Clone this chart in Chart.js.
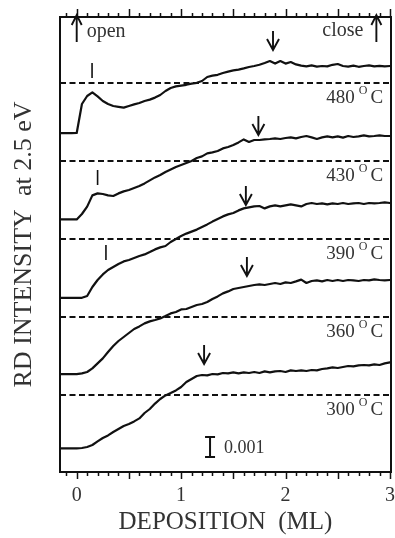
<!DOCTYPE html>
<html>
<head>
<meta charset="utf-8">
<script src="https://cdn.jsdelivr.net/npm/chart.js@4/dist/chart.umd.min.js"></script>
<style>
  html, body { margin: 0; padding: 0; background: #fff; overflow: hidden; }
  canvas { display: block; }
</style>
</head>
<body>
<canvas id="c" width="410" height="538"></canvas>
<script>
// Deposition (ML) sampling grid shared by all traces
const deposition = [-0.16, -0.10, -0.05, 0.00, 0.05, 0.10, 0.15, 0.20, 0.25, 0.30,
  0.35, 0.40, 0.45, 0.50, 0.55, 0.60, 0.65, 0.70, 0.75, 0.80,
  0.85, 0.90, 0.95, 1.00, 1.05, 1.10, 1.15, 1.20, 1.25, 1.30,
  1.35, 1.40, 1.45, 1.50, 1.55, 1.60, 1.65, 1.70, 1.75, 1.80,
  1.85, 1.90, 1.95, 2.00, 2.05, 2.10, 2.15, 2.20, 2.25, 2.30,
  2.35, 2.40, 2.45, 2.50, 2.55, 2.60, 2.65, 2.70, 2.75, 2.80,
  2.85, 2.90, 2.95, 3.00];

// RD intensity in units of 0.001, each trace shifted by its stacking offset
const rd480 = [16.94, 16.94, 16.94, 16.95, 18.40, 18.80, 18.98, 18.78, 18.55, 18.40,
  18.30, 18.26, 18.22, 18.30, 18.38, 18.45, 18.55, 18.62, 18.72, 18.85,
  19.05, 19.20, 19.28, 19.32, 19.36, 19.42, 19.46, 19.55, 19.75, 19.82,
  19.86, 19.95, 20.02, 20.08, 20.12, 20.18, 20.25, 20.30, 20.36, 20.45,
  20.55, 20.42, 20.55, 20.42, 20.50, 20.38, 20.32, 20.28, 20.33, 20.27,
  20.30, 20.28, 20.36, 20.40, 20.30, 20.27, 20.32, 20.26, 20.30, 20.33,
  20.28, 20.31, 20.28, 20.30];
const rd430 = [12.63, 12.63, 12.63, 12.63, 12.90, 13.27, 13.83, 13.93, 13.90, 13.83,
  13.80, 13.93, 14.03, 14.10, 14.20, 14.30, 14.43, 14.58, 14.73, 14.85,
  15.00, 15.13, 15.25, 15.35, 15.45, 15.55, 15.70, 15.78, 15.93, 15.98,
  16.05, 16.18, 16.25, 16.35, 16.48, 16.63, 16.50, 16.60, 16.60, 16.63,
  16.65, 16.68, 16.65, 16.70, 16.73, 16.68, 16.75, 16.80, 16.73, 16.65,
  16.73, 16.78, 16.73, 16.78, 16.72, 16.80, 16.75, 16.78, 16.83, 16.78,
  16.80, 16.83, 16.80, 16.80];
const rd390 = [8.71, 8.71, 8.71, 8.71, 8.71, 8.80, 9.25, 9.60, 9.88, 10.10,
  10.25, 10.40, 10.53, 10.60, 10.70, 10.80, 10.88, 11.00, 11.13, 11.23,
  11.30, 11.50, 11.65, 11.80, 11.92, 12.02, 12.12, 12.25, 12.38, 12.52,
  12.65, 12.78, 12.88, 12.95, 13.08, 13.18, 13.23, 13.28, 13.30, 13.18,
  13.28, 13.33, 13.28, 13.33, 13.38, 13.33, 13.28, 13.40, 13.45, 13.40,
  13.43, 13.38, 13.43, 13.40, 13.45, 13.40, 13.43, 13.45, 13.40, 13.45,
  13.43, 13.45, 13.48, 13.45];
const rd360 = [4.89, 4.89, 4.89, 4.89, 4.93, 5.00, 5.18, 5.43, 5.68, 6.00,
  6.30, 6.55, 6.75, 6.95, 7.15, 7.28, 7.43, 7.53, 7.60, 7.68,
  7.80, 7.93, 8.00, 8.13, 8.15, 8.25, 8.35, 8.40, 8.50, 8.65,
  8.78, 8.93, 9.03, 9.15, 9.20, 9.25, 9.30, 9.35, 9.38, 9.35,
  9.40, 9.45, 9.40, 9.48, 9.45, 9.53, 9.62, 9.45, 9.55, 9.58,
  9.53, 9.60, 9.55, 9.60, 9.55, 9.60, 9.58, 9.55, 9.60, 9.58,
  9.63, 9.60, 9.58, 9.60];
const rd300 = [1.18, 1.18, 1.18, 1.18, 1.20, 1.25, 1.35, 1.53, 1.70, 1.83,
  2.00, 2.15, 2.30, 2.40, 2.53, 2.68, 2.95, 3.15, 3.42, 3.65,
  3.83, 3.95, 4.08, 4.25, 4.50, 4.65, 4.80, 4.85, 4.83, 4.90,
  4.88, 4.95, 4.93, 4.98, 4.93, 4.98, 4.95, 5.00, 4.95, 5.03,
  4.98, 5.03, 5.05, 5.00, 5.08, 5.05, 5.08, 5.05, 5.10, 5.08,
  5.15, 5.18, 5.23, 5.20, 5.25, 5.30, 5.28, 5.33, 5.35, 5.33,
  5.38, 5.35, 5.43, 5.48];

// Substrate temperatures and the dashed reference level of each trace
const temperatures = ['480', '430', '390', '360', '300'];
const baselines = [19.45, 15.55, 11.65, 7.75, 3.85];

// Short vertical marks at the initial feature (first three traces)
const kinkPositions = [0.147, 0.20, 0.28];
const kinkLows = [19.70, 14.35, 10.60];

// Down arrows marking the saturation point of each trace
const arrowPositions = [1.88, 1.74, 1.62, 1.63, 1.22];
const arrowTips = [21.10, 16.85, 13.35, 9.80, 5.40];

// Shutter events
const shutterOpen = 0.0;
const shutterClose = 2.87;

// Intensity scale bar (0.001)
const scaleBarX = 1.277;
const scaleBarFrom = 0.75;
const scaleBarSize = 1.0;
const scaleBarText = '0.001';

const xTickLabels = [0, 1, 2, 3];
const X_MIN = -0.16, X_MAX = 3.01;
const Y_MIN = 0, Y_MAX = 22.75;

const SERIF = '"Liberation Serif", "Times New Roman", "DejaVu Serif", serif';
const INK = '#111';
const TEXT = '#333';

const traces = [rd480, rd430, rd390, rd360, rd300];
const datasets = [];
baselines.forEach(b => {
  datasets.push({
    data: [{ x: X_MIN, y: b }, { x: X_MAX, y: b }],
    borderColor: INK, borderWidth: 2, borderDash: [6, 3.5],
    pointRadius: 0, tension: 0
  });
});
traces.forEach(t => {
  datasets.push({
    data: deposition.map((x, i) => ({ x, y: t[i] })),
    borderColor: INK, borderWidth: 2.2, pointRadius: 0, tension: 0,
    borderJoinStyle: 'round', borderCapStyle: 'round'
  });
});

function downArrow(ctx, x, yTip, len) {
  ctx.beginPath();
  ctx.moveTo(x, yTip - len); ctx.lineTo(x, yTip);
  ctx.moveTo(x - 6, yTip - 11); ctx.lineTo(x, yTip); ctx.lineTo(x + 6, yTip - 11);
  ctx.stroke();
}
function upArrow(ctx, x, yTip, len) {
  ctx.beginPath();
  ctx.moveTo(x, yTip + len); ctx.lineTo(x, yTip);
  ctx.moveTo(x - 5, yTip + 10); ctx.lineTo(x, yTip); ctx.lineTo(x + 5, yTip + 10);
  ctx.stroke();
}

const decorations = {
  id: 'decorations',
  afterDatasetsDraw(chart) {
    const { ctx, chartArea: a, scales: { x, y } } = chart;
    ctx.save();
    ctx.strokeStyle = INK;
    ctx.lineCap = 'butt';

    // frame
    ctx.lineWidth = 2;
    ctx.strokeRect(a.left, a.top, a.right - a.left, a.bottom - a.top);

    // tick marks every 0.1 ML on top and bottom edges, longer every 0.5 ML
    ctx.lineWidth = 1.5;
    for (let i = -1; i <= 30; i++) {
      const px = Math.round(x.getPixelForValue(i / 10)) + 0.5;
      const major = i % 5 === 0;
      ctx.beginPath();
      ctx.moveTo(px, a.bottom); ctx.lineTo(px, a.bottom + (major ? 7 : 4));
      ctx.moveTo(px, a.top); ctx.lineTo(px, a.top - (major ? 8 : 4));
      ctx.stroke();
    }

    // initial-feature marks
    ctx.lineWidth = 1.6;
    kinkPositions.forEach((k, i) => {
      const px = x.getPixelForValue(k);
      const py = y.getPixelForValue(kinkLows[i]);
      ctx.beginPath(); ctx.moveTo(px, py); ctx.lineTo(px, py - 15); ctx.stroke();
    });

    // saturation arrows
    ctx.lineWidth = 1.9;
    arrowPositions.forEach((p, i) => {
      downArrow(ctx, x.getPixelForValue(p), y.getPixelForValue(arrowTips[i]), 19);
    });

    // shutter arrows and labels
    upArrow(ctx, x.getPixelForValue(shutterOpen), a.top - 2, 27);
    upArrow(ctx, x.getPixelForValue(shutterClose), a.top - 2, 27);
    ctx.fillStyle = TEXT;
    ctx.font = '20px ' + SERIF;
    ctx.textBaseline = 'alphabetic';
    ctx.textAlign = 'left';
    ctx.fillText('open', x.getPixelForValue(shutterOpen) + 10, a.top + 20);
    ctx.textAlign = 'right';
    ctx.fillText('close', x.getPixelForValue(shutterClose) - 13, a.top + 19);

    // temperature labels under each dashed level
    const right = x.getPixelForValue(2.935);
    temperatures.forEach((t, i) => {
      const base = y.getPixelForValue(baselines[i]) + 20;
      ctx.textAlign = 'left';
      ctx.font = '19px ' + SERIF;
      const wC = ctx.measureText('C').width;
      const wN = ctx.measureText(t).width;
      ctx.font = '12px ' + SERIF;
      const wO = ctx.measureText('O').width;
      const xC = right - wC;
      const xO = xC - 3 - wO;
      const xN = xO - 4 - wN;
      ctx.font = '19px ' + SERIF;
      ctx.fillText(t, xN, base);
      ctx.fillText('C', xC, base);
      ctx.font = '12px ' + SERIF;
      ctx.fillText('O', xO, base - 9);
    });

    // intensity scale bar
    const bx = x.getPixelForValue(scaleBarX);
    const b0 = y.getPixelForValue(scaleBarFrom);
    const b1 = y.getPixelForValue(scaleBarFrom + scaleBarSize);
    ctx.lineWidth = 2;
    ctx.beginPath();
    ctx.moveTo(bx, b0); ctx.lineTo(bx, b1);
    ctx.moveTo(bx - 5, b0); ctx.lineTo(bx + 5, b0);
    ctx.moveTo(bx - 5, b1); ctx.lineTo(bx + 5, b1);
    ctx.stroke();
    ctx.font = '18px ' + SERIF;
    ctx.textAlign = 'left';
    ctx.textBaseline = 'middle';
    ctx.fillText(scaleBarText, bx + 14, (b0 + b1) / 2 + 1);

    ctx.restore();
  }
};

new Chart(document.getElementById('c'), {
  type: 'line',
  data: { datasets },
  plugins: [decorations],
  options: {
    responsive: false,
    animation: false,
    devicePixelRatio: 1,
    layout: { padding: { left: 0, right: 19, top: 17, bottom: 0 } },
    plugins: { legend: { display: false }, tooltip: { enabled: false } },
    scales: {
      x: {
        type: 'linear', min: X_MIN, max: X_MAX,
        afterBuildTicks: s => { s.ticks = xTickLabels.map(v => ({ value: v })); },
        afterFit: s => { s.height = 66; },
        grid: { display: false, drawTicks: false },
        border: { display: false },
        ticks: {
          color: TEXT, font: { family: SERIF, size: 20, lineHeight: 1.0 }, padding: 14,
          maxRotation: 0, autoSkip: false, callback: v => String(v)
        },
        title: {
          display: true, text: 'DEPOSITION  (ML)', color: TEXT,
          font: { family: SERIF, size: 25, lineHeight: 1.0 }, padding: { top: 5, bottom: 3 }
        }
      },
      y: {
        min: Y_MIN, max: Y_MAX,
        afterFit: s => { s.width = 60; },
        grid: { display: false, drawTicks: false },
        border: { display: false },
        ticks: { display: false },
        title: {
          display: true, text: 'RD INTENSITY  at 2.5 eV', color: TEXT,
          font: { family: SERIF, size: 26, lineHeight: 1.2 }, padding: { top: 9, bottom: 20 }
        }
      }
    }
  }
});
</script>
</body>
</html>
